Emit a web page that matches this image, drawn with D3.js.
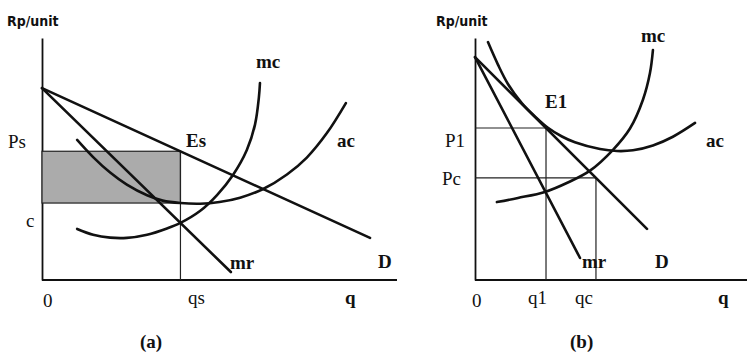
<!DOCTYPE html>
<html>
<head>
<meta charset="utf-8">
<script src="https://cdn.jsdelivr.net/npm/d3@7"></script>
<style>
  html, body { margin: 0; padding: 0; background: #ffffff; }
  svg { display: block; }
  .lbl { font-family: "Liberation Serif", "Times New Roman", serif; font-size: 19px; fill: #111; }
  .b { font-weight: bold; }
  .ttl { font-family: "DejaVu Sans Condensed", "DejaVu Sans", sans-serif; font-weight: bold; font-size: 14px; fill: #111; }
</style>
</head>
<body>
<svg id="chart" width="747" height="356"></svg>
<script>
// ---------- Panel (a): single-price monopoly, quantity / price in index units ----------
const demandA = [{ q: 0, p: 79.3 }, { q: 92.4, p: 17.4 }];
const mrA     = [{ q: 0, p: 79.3 }, { q: 53.2, p: 3.3 }];
const acA = [
  { q: 9.9, p: 57.9 }, { q: 14.4, p: 50.8 }, { q: 19.2, p: 44.4 }, { q: 23.9, p: 39.4 },
  { q: 29.6, p: 35.0 }, { q: 34.0, p: 32.8 }, { q: 39.0, p: 31.8 }, { q: 44.5, p: 31.5 },
  { q: 50.0, p: 32.2 }, { q: 55.8, p: 34.0 }, { q: 62.3, p: 37.6 }, { q: 69.0, p: 43.6 },
  { q: 74.6, p: 50.6 }, { q: 80.3, p: 60.8 }, { q: 85.6, p: 73.1 }
];
const mcA = [
  { q: 9.9, p: 21.1 }, { q: 14.4, p: 18.7 }, { q: 19.2, p: 17.5 }, { q: 23.9, p: 17.4 },
  { q: 29.6, p: 18.7 }, { q: 35.2, p: 21.3 }, { q: 39.0, p: 23.6 }, { q: 44.5, p: 28.5 },
  { q: 49.3, p: 35.1 }, { q: 53.8, p: 43.4 }, { q: 57.7, p: 53.7 }, { q: 60.0, p: 64.2 },
  { q: 61.1, p: 75.6 }, { q: 61.4, p: 81.4 }
];
const qsA = 39.0;   // profit-maximising output
const psA = 53.2;
const cA  = 31.8;   // average cost at qs

// ---------- Panel (b): regulated monopoly ----------
const demandB = [{ q: 0, p: 92.1 }, { q: 63.7, p: 21.1 }];
const mrB     = [{ q: 0, p: 92.1 }, { q: 38.9, p: 9.1 }];
const acB = [
  { q: 4.8, p: 98.3 }, { q: 8.5, p: 89.0 }, { q: 12.2, p: 81.0 }, { q: 17.4, p: 73.0 },
  { q: 22.2, p: 67.6 }, { q: 27.0, p: 62.9 }, { q: 32.2, p: 59.3 }, { q: 37.0, p: 56.9 },
  { q: 46.3, p: 54.1 }, { q: 52.6, p: 53.3 }, { q: 58.5, p: 53.6 }, { q: 65.9, p: 55.6 },
  { q: 73.3, p: 59.2 }, { q: 81.5, p: 64.9 }
];
const mcB = [
  { q: 8.1, p: 32.2 }, { q: 15.9, p: 33.9 }, { q: 25.9, p: 36.4 }, { q: 34.4, p: 40.3 },
  { q: 42.6, p: 45.2 }, { q: 51.1, p: 53.8 }, { q: 57.4, p: 62.6 }, { q: 62.2, p: 74.5 },
  { q: 64.8, p: 85.5 }, { q: 65.9, p: 95.0 }
];
const q1B = 26.3, p1B = 62.8;   // E1: price where ac meets demand
const qcB = 44.8, pcB = 42.2;   // marginal-cost price

const svg = d3.select("#chart");

function panel(cfg) {
  const x = d3.scaleLinear().domain([0, 100]).range(cfg.xRange);
  const y = d3.scaleLinear().domain([0, 100]).range([280, 38]);
  const g = svg.append("g");
  const line = d3.line().x(d => x(d.q)).y(d => y(d.p));
  const curve = d3.line().x(d => x(d.q)).y(d => y(d.p)).curve(d3.curveCatmullRom.alpha(0.5));

  // axes: plain lines without ticks
  const xAxis = g.append("g").attr("transform", `translate(0,${y(0)})`)
    .call(d3.axisBottom(x).tickValues([]).tickSizeOuter(0));
  const yAxis = g.append("g").attr("transform", `translate(${x(0)},0)`)
    .call(d3.axisLeft(y).tickValues([]).tickSizeOuter(0));
  [xAxis, yAxis].forEach(a => a.select(".domain").attr("stroke", "#111").attr("stroke-width", 1.8));
  // x axis runs past the domain end
  xAxis.select(".domain").attr("d", `M${x(0)},0H${cfg.xAxisEnd}`);

  cfg.guides(g, x, y);

  const thick = { fill: "none", stroke: "#111", "stroke-width": 2.6, "stroke-linecap": "round" };
  const draw = (data, gen) => {
    const p = g.append("path").datum(data).attr("d", gen);
    Object.entries(thick).forEach(([k, v]) => p.attr(k, v));
  };
  draw(cfg.demand, line);
  draw(cfg.mr, line);
  draw(cfg.ac, curve);
  draw(cfg.mc, curve);

  cfg.labels.forEach(l => {
    g.append("text").attr("class", l.cls).attr("x", l.x).attr("y", l.y).text(l.t);
  });
}

panel({
  xRange: [42, 397], xAxisEnd: 397,
  demand: demandA, mr: mrA, ac: acA, mc: mcA,
  guides: (g, x, y) => {
    g.append("rect")
      .attr("x", x(0)).attr("y", y(psA))
      .attr("width", x(qsA) - x(0)).attr("height", y(cA) - y(psA))
      .attr("fill", "#ababab").attr("stroke", "#222").attr("stroke-width", 1.2);
    g.append("line")
      .attr("x1", x(qsA)).attr("x2", x(qsA)).attr("y1", y(psA)).attr("y2", y(0))
      .attr("stroke", "#222").attr("stroke-width", 1.2);
  },
  labels: [
    { t: "Rp/unit", x: 7, y: 26, cls: "ttl" },
    { t: "Ps", x: 8, y: 148, cls: "lbl" },
    { t: "c", x: 26, y: 227, cls: "lbl" },
    { t: "Es", x: 186, y: 147, cls: "lbl b" },
    { t: "mc", x: 256, y: 68, cls: "lbl b" },
    { t: "ac", x: 337, y: 147, cls: "lbl b" },
    { t: "mr", x: 230, y: 269, cls: "lbl b" },
    { t: "D", x: 378, y: 268, cls: "lbl b" },
    { t: "0", x: 43, y: 307, cls: "lbl" },
    { t: "qs", x: 188, y: 304, cls: "lbl" },
    { t: "q", x: 345, y: 304, cls: "lbl b" },
    { t: "(a)", x: 140, y: 348, cls: "lbl b" }
  ]
});

panel({
  xRange: [475, 745], xAxisEnd: 747,
  demand: demandB, mr: mrB, ac: acB, mc: mcB,
  guides: (g, x, y) => {
    const thin = (x1, y1, x2, y2) => g.append("line")
      .attr("x1", x1).attr("y1", y1).attr("x2", x2).attr("y2", y2)
      .attr("stroke", "#222").attr("stroke-width", 1.2);
    thin(x(0), y(p1B), x(q1B), y(p1B));
    thin(x(q1B), y(p1B), x(q1B), y(0));
    thin(x(0), y(pcB), x(qcB), y(pcB));
    thin(x(qcB), y(pcB), x(qcB), y(0));
  },
  labels: [
    { t: "Rp/unit", x: 436, y: 26, cls: "ttl" },
    { t: "mc", x: 641, y: 42, cls: "lbl b" },
    { t: "E1", x: 545, y: 108, cls: "lbl b" },
    { t: "P1", x: 445, y: 147, cls: "lbl" },
    { t: "ac", x: 706, y: 147, cls: "lbl b" },
    { t: "Pc", x: 442, y: 185, cls: "lbl" },
    { t: "mr", x: 582, y: 268, cls: "lbl b" },
    { t: "D", x: 655, y: 268, cls: "lbl b" },
    { t: "0", x: 472, y: 307, cls: "lbl" },
    { t: "q1", x: 528, y: 304, cls: "lbl" },
    { t: "qc", x: 575, y: 304, cls: "lbl" },
    { t: "q", x: 718, y: 304, cls: "lbl b" },
    { t: "(b)", x: 570, y: 348, cls: "lbl b" }
  ]
});
</script>
</body>
</html>
